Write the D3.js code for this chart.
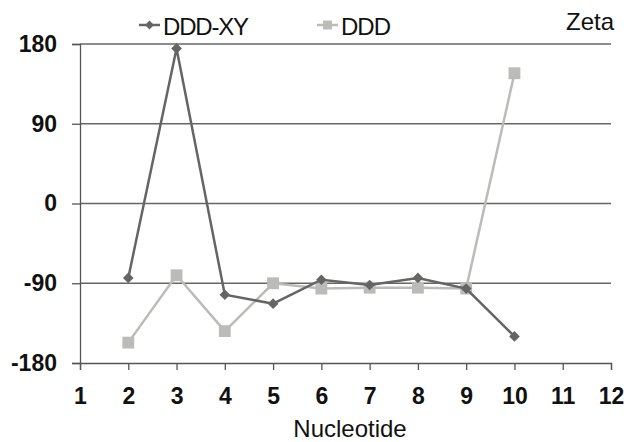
<!DOCTYPE html>
<html>
<head>
<meta charset="utf-8">
<script src="https://cdn.jsdelivr.net/npm/d3@7"></script>
<style>
  body { margin: 0; background: #fff; }
  svg { font-family: "Liberation Sans", Arial, sans-serif; }
</style>
</head>
<body>
<svg id="chart" width="629" height="442"></svg>
<script>
// data
var nucleotides = [2, 3, 4, 5, 6, 7, 8, 9, 10];
var dddXY = [-84, 175, -103, -113, -86, -92, -84, -96, -150];
var ddd = [-157, -81, -144, -90, -96, -95, -95, -96, 147];
var xTicks = [1, 2, 3, 4, 5, 6, 7, 8, 9, 10, 11, 12];
var yTicks = [-180, -90, 0, 90, 180];

var margin = {top: 44, right: 18, bottom: 79, left: 80};
var width = 629 - margin.left - margin.right;
var height = 442 - margin.top - margin.bottom;

var svg = d3.select('#chart');
var g = svg.append('g')
  .attr('transform', 'translate(' + margin.left + ',' + margin.top + ')');

var x = d3.scaleLinear().domain([1, 12]).range([0, width]);
var y = d3.scaleLinear().domain([-180, 180]).range([height, 0]);

// horizontal gridlines
g.append('g')
  .selectAll('line')
  .data(yTicks.filter(function (d) { return d > -180; }))
  .enter()
  .append('line')
  .attr('x1', 0)
  .attr('x2', width)
  .attr('y1', function (d) { return y(d); })
  .attr('y2', function (d) { return y(d); })
  .attr('stroke', '#666')
  .attr('stroke-width', 1.3);

// Y axis
var yAxis = g.append('g')
  .call(d3.axisLeft(y).tickValues(yTicks).tickSize(8).tickPadding(15)
    .tickFormat(function (d) { return String(d); }));
yAxis.select('.domain').attr('stroke', '#555').attr('stroke-width', 1.3);
yAxis.selectAll('.tick line').attr('stroke', '#555').attr('stroke-width', 1.3);
yAxis.selectAll('text')
  .attr('fill', '#111')
  .style('font-size', '23px')
  .style('font-weight', 'bold')
  .style('font-family', '"Liberation Sans", Arial, sans-serif');

// X axis
var xAxis = g.append('g')
  .attr('transform', 'translate(0,' + height + ')')
  .call(d3.axisBottom(x).tickValues(xTicks).tickSize(7).tickPadding(18));
xAxis.select('.domain').attr('stroke', '#555').attr('stroke-width', 1.3);
xAxis.selectAll('.tick line').attr('stroke', '#555').attr('stroke-width', 1.3);
xAxis.selectAll('text')
  .attr('fill', '#111')
  .style('font-size', '23px')
  .style('font-weight', 'bold')
  .style('font-family', '"Liberation Sans", Arial, sans-serif');

// axis title
svg.append('text')
  .attr('x', 350)
  .attr('y', 437)
  .attr('text-anchor', 'middle')
  .style('font-size', '24px')
  .attr('fill', '#111')
  .text('Nucleotide');

function drawSeries(values, color, shape) {
  var pts = nucleotides.map(function (n, i) { return [n, values[i]]; });
  var line = d3.line()
    .x(function (d) { return x(d[0]); })
    .y(function (d) { return y(d[1]); });

  g.append('path')
    .datum(pts)
    .attr('d', line)
    .attr('fill', 'none')
    .attr('stroke', color)
    .attr('stroke-width', 2.5);

  var sym = shape == 'diamond'
    ? d3.symbol().type(d3.symbolDiamond2).size(72)
    : d3.symbol().type(d3.symbolSquare).size(140);

  g.append('g')
    .selectAll('path')
    .data(pts)
    .enter()
    .append('path')
    .attr('d', sym)
    .attr('transform', function (d) { return 'translate(' + x(d[0]) + ',' + y(d[1]) + ')'; })
    .attr('fill', color);
}

drawSeries(ddd, '#bbbbb8', 'square');
drawSeries(dddXY, '#656565', 'diamond');

// legend
function legendItem(lx, label, color, shape) {
  var ly = 25;
  svg.append('line')
    .attr('x1', lx).attr('x2', lx + 21)
    .attr('y1', ly).attr('y2', ly)
    .attr('stroke', color).attr('stroke-width', 2.5);
  var sym = shape == 'diamond'
    ? d3.symbol().type(d3.symbolDiamond2).size(50)
    : d3.symbol().type(d3.symbolSquare).size(80);
  svg.append('path')
    .attr('d', sym)
    .attr('transform', 'translate(' + (lx + 10.5) + ',' + ly + ')')
    .attr('fill', color);
  svg.append('text')
    .attr('x', lx + 24)
    .attr('y', ly + 10)
    .style('font-size', '24px')
    .attr('textLength', label.length == 6 ? 86 : 50)
    .attr('fill', '#111')
    .text(label);
}
legendItem(139, 'DDD-XY', '#656565', 'diamond');
legendItem(317, 'DDD', '#bbbbb8', 'square');

svg.append('text')
  .attr('x', 614)
  .attr('y', 30)
  .attr('text-anchor', 'end')
  .style('font-size', '24px')
  .attr('fill', '#111')
  .text('Zeta');
</script>
</body>
</html>
